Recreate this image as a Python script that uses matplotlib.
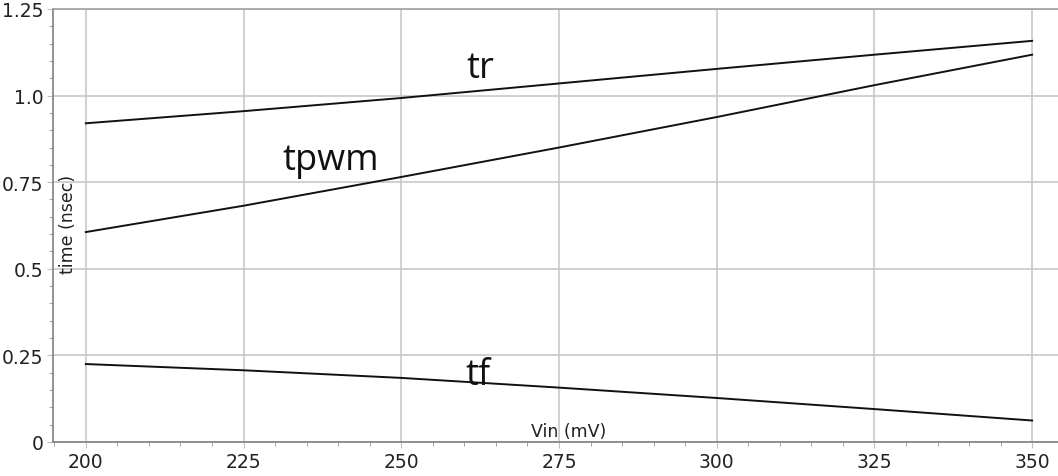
import matplotlib.pyplot as plt
from matplotlib.ticker import MultipleLocator, FixedLocator

vin = [200, 225, 250, 275, 300, 325, 350]
tr = [0.920, 0.955, 0.993, 1.035, 1.077, 1.118, 1.158]
tpwm = [0.606, 0.682, 0.765, 0.850, 0.938, 1.030, 1.118]
tf = [0.225, 0.207, 0.185, 0.157, 0.127, 0.095, 0.062]

x_ticks = [200, 225, 250, 275, 300, 325, 350]
y_ticks = [0, 0.25, 0.5, 0.75, 1.0, 1.25]
y_tick_labels = ["0", "0.25", "0.5", "0.75", "1.0", "1.25"]

fig = plt.figure(figsize=(10.58, 4.77), dpi=100)
ax = fig.add_axes([0.0501, 0.0713, 0.9499, 0.9078])

for series in (tr, tpwm, tf):
    ax.plot(vin, series, color="#111111", lw=1.4)

ax.set_xlim(194.8, 354.1)
ax.set_ylim(0, 1.25)

ax.xaxis.set_major_locator(FixedLocator(x_ticks))
ax.xaxis.set_minor_locator(MultipleLocator(5))
ax.yaxis.set_major_locator(FixedLocator(y_ticks))
ax.set_yticklabels(y_tick_labels)
ax.yaxis.set_minor_locator(MultipleLocator(0.05))

ax.grid(True, which="major", color="#c8c8c8", lw=1.2)
ax.set_axisbelow(True)

ax.spines["right"].set_visible(False)
ax.spines["top"].set_color("#a0a0a0")
ax.spines["left"].set_color("#808080")
ax.spines["bottom"].set_color("#808080")
for s in ("top", "left", "bottom"):
    ax.spines[s].set_linewidth(1.2)

ax.tick_params(axis="both", which="major", length=4, color="#c0c0c0",
               labelsize=13.5, labelcolor="#222222", pad=3)
ax.tick_params(axis="both", which="minor", length=3, color="#909090")

# axis titles sit inside the plotting area
ax.annotate("time (nsec)", xy=(0, 0.63), xycoords=("axes fraction", "data"),
            xytext=(15, 0), textcoords="offset pixels", rotation=90,
            fontsize=12.5, color="#222222", ha="center", va="center")
ax.text(276.5, 0.006, "Vin (mV)", fontsize=12.5, color="#222222",
        ha="center", va="bottom")

# curve names
label_font = dict(fontsize=26, family="Open Sans", color="#111111",
                  ha="center", va="baseline")
ax.text(262.6, 1.054, "tr", **label_font)
ax.text(238.8, 0.788, "tpwm", **label_font)
ax.text(262.2, 0.167, "tf", **label_font)

fig.savefig("out.png", dpi=100)
